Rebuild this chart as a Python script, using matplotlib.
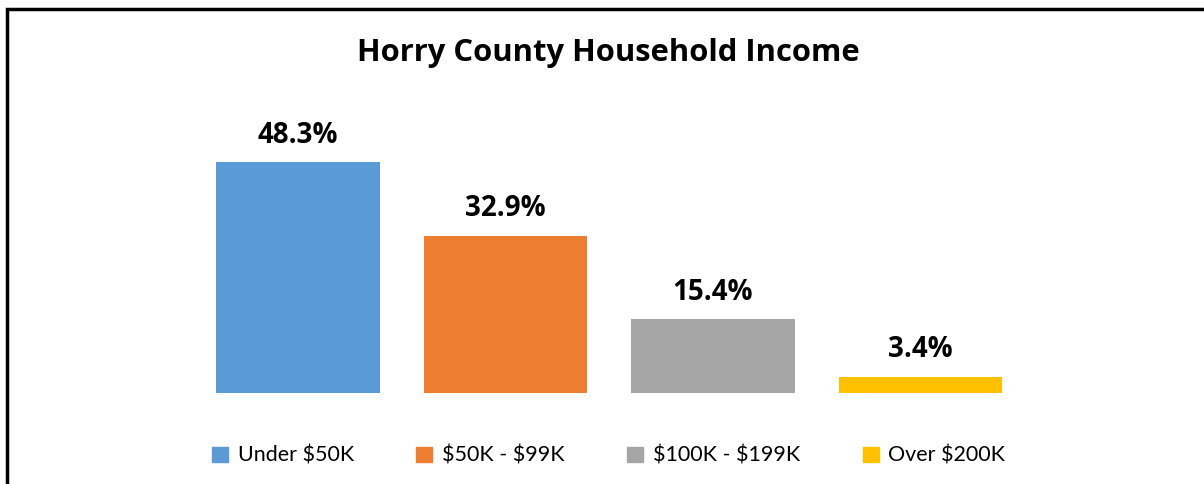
import matplotlib.pyplot as plt
from matplotlib.patches import Rectangle, Patch

categories = ['Under \\$50K', '\\$50K - \\$99K', '\\$100K - \\$199K', 'Over \\$200K']
values = [48.3, 32.9, 15.4, 3.4]
labels = ['48.3%', '32.9%', '15.4%', '3.4%']
colors = ['#5b9bd5', '#ed7d31', '#a5a5a5', '#ffc000']

plt.rcParams['font.family'] = ['Lato', 'DejaVu Sans']

fig = plt.figure(figsize=(12.04, 4.84), dpi=100)
ax = fig.add_axes([0.1613, 0.188, 0.6894, 0.593])

x = range(len(values))
ax.bar(x, values, width=0.79, color=colors)
for i, v in enumerate(values):
    ax.text(i, v + 2.6, labels[i], ha='center', va='bottom', fontsize=20,
            fontweight='bold', family='Open Sans')

ax.set_xlim(-0.5, 3.5)
ax.set_ylim(0, 60)
ax.axis('off')

fig.text(0.505, 0.89, 'Horry County Household Income', ha='center', va='center',
         fontsize=22.3, fontweight='bold', family='Open Sans')

handles = [Patch(color=c) for c in colors]
fig.legend(handles, categories, loc='center', bbox_to_anchor=(0.5055, 0.058), ncol=4,
           frameon=False, fontsize=15.5, handlelength=0.75, handleheight=0.75,
           handletextpad=0.45, columnspacing=2.9)

fig.patches.append(Rectangle((7 / 1204, -0.1), 1.2, (484 - 9) / 484 + 0.1,
                             transform=fig.transFigure, fill=False, edgecolor='black',
                             linewidth=2.5))

fig.savefig('out.png', dpi=100)
